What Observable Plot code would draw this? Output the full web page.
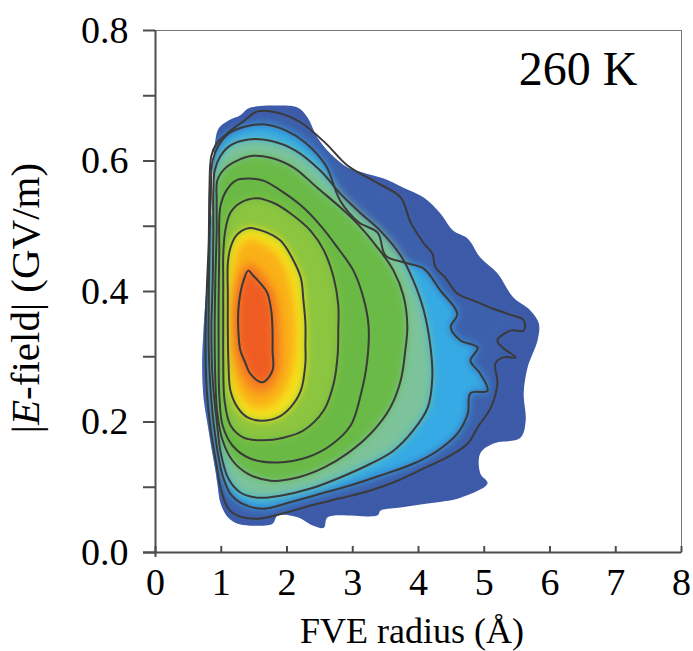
<!DOCTYPE html>
<html><head><meta charset="utf-8">
<script src="https://cdn.jsdelivr.net/npm/d3@7"></script>
<script src="https://cdn.jsdelivr.net/npm/@observablehq/plot@0.6"></script>
<style>
body{margin:0;background:#fff;}
#chart svg{font-family:"Liberation Serif","Times New Roman",serif;}
</style>
</head><body><div id="chart"></div>
<script>
// ---- tick values & labels ----
const xTicks = [0, 1, 2, 3, 4, 5, 6, 7, 8];
const yTicks = [0, 0.2, 0.4, 0.6, 0.8];
const yMinor = [0.1, 0.3, 0.5, 0.7];
const xLabel = "FVE radius (Å)";
const yLabelParts = ["|", "E", "-field| (GV/m)"];
const tempLabel = "260 K";

// ---- density region outline and contour polygons, [FVE radius (Å), |E| (GV/m)] ----
const boundary = [[0.91,0.631],[0.96,0.650],[1.11,0.662],[1.29,0.670],[1.40,0.680],[1.55,0.684],[1.86,0.685],[2.16,0.682],[2.31,0.667],[2.46,0.636],[2.66,0.611],[2.92,0.590],[3.16,0.582],[3.47,0.573],[3.77,0.559],[4.08,0.544],[4.33,0.520],[4.53,0.493],[4.75,0.481],[4.94,0.452],[5.20,0.428],[5.44,0.391],[5.70,0.371],[5.83,0.351],[5.81,0.325],[5.66,0.284],[5.60,0.244],[5.63,0.202],[5.55,0.176],[5.14,0.167],[4.94,0.152],[4.94,0.121],[5.05,0.106],[4.64,0.084],[4.14,0.075],[3.73,0.069],[3.42,0.064],[3.38,0.057],[2.62,0.054],[2.56,0.038],[2.40,0.041],[2.16,0.054],[1.86,0.057],[1.78,0.044],[1.55,0.041],[1.25,0.044],[1.10,0.054],[0.99,0.075],[0.94,0.106],[0.91,0.126],[0.84,0.167],[0.79,0.198],[0.73,0.238],[0.71,0.290],[0.73,0.340],[0.76,0.386],[0.81,0.448],[0.84,0.493],[0.87,0.539],[0.88,0.585]];

const contour8 = [[0.85,0.608],[0.93,0.627],[1.11,0.644],[1.34,0.661],[1.55,0.676],[1.86,0.674],[2.21,0.659],[2.59,0.627],[2.92,0.593],[3.38,0.566],[3.73,0.544],[3.88,0.506],[4.08,0.474],[4.21,0.458],[4.26,0.437],[4.41,0.421],[4.59,0.397],[4.84,0.386],[5.10,0.375],[5.35,0.366],[5.60,0.356],[5.60,0.340],[5.40,0.340],[5.20,0.325],[5.29,0.313],[5.48,0.299],[5.29,0.299],[5.17,0.290],[5.20,0.259],[5.10,0.222],[4.90,0.192],[4.75,0.167],[4.44,0.146],[4.08,0.129],[3.68,0.110],[3.27,0.095],[2.81,0.083],[2.36,0.072],[1.98,0.061],[1.60,0.052],[1.29,0.055],[1.11,0.067],[1.00,0.095],[0.93,0.133],[0.84,0.187],[0.78,0.248],[0.76,0.325],[0.78,0.402],[0.81,0.478],[0.82,0.555]];

const contour7 = [[0.87,0.601],[0.96,0.624],[1.11,0.642],[1.37,0.653],[1.67,0.656],[1.98,0.647],[2.28,0.628],[2.59,0.593],[2.81,0.539],[3.09,0.506],[3.38,0.490],[3.50,0.455],[3.80,0.444],[4.08,0.435],[4.33,0.402],[4.59,0.366],[4.49,0.345],[4.64,0.325],[4.90,0.314],[4.79,0.294],[4.94,0.274],[5.05,0.248],[4.79,0.244],[4.75,0.213],[4.59,0.182],[4.29,0.156],[3.92,0.136],[3.42,0.118],[2.97,0.103],[2.51,0.090],[2.05,0.077],[1.63,0.067],[1.32,0.075],[1.14,0.090],[1.02,0.118],[0.93,0.164],[0.85,0.233],[0.81,0.310],[0.81,0.386],[0.82,0.463],[0.84,0.539]];

const contour6 = [[0.90,0.585],[0.99,0.608],[1.14,0.624],[1.41,0.633],[1.75,0.631],[2.13,0.616],[2.51,0.585],[2.81,0.550],[3.12,0.520],[3.42,0.493],[3.73,0.455],[3.92,0.417],[4.08,0.371],[4.18,0.317],[4.21,0.268],[4.14,0.222],[3.92,0.187],[3.62,0.156],[3.27,0.136],[2.81,0.115],[2.36,0.098],[1.90,0.087],[1.55,0.084],[1.29,0.092],[1.11,0.113],[1.00,0.149],[0.93,0.202],[0.87,0.264],[0.85,0.340],[0.87,0.417],[0.88,0.493],[0.88,0.555]];

const contour5 = [[0.94,0.570],[1.05,0.588],[1.25,0.601],[1.48,0.608],[1.75,0.605],[2.10,0.590],[2.46,0.559],[2.81,0.529],[3.07,0.504],[3.38,0.467],[3.62,0.432],[3.77,0.394],[3.83,0.348],[3.80,0.310],[3.73,0.264],[3.57,0.222],[3.27,0.182],[2.92,0.152],[2.56,0.130],[2.16,0.115],[1.75,0.110],[1.40,0.121],[1.17,0.141],[1.02,0.172],[0.94,0.213],[0.91,0.264],[0.90,0.340],[0.91,0.417],[0.93,0.493],[0.93,0.539]];

const contour4 = [[0.99,0.532],[1.08,0.555],[1.22,0.570],[1.41,0.573],[1.64,0.570],[1.90,0.555],[2.21,0.532],[2.51,0.501],[2.77,0.467],[3.01,0.432],[3.16,0.391],[3.24,0.348],[3.22,0.294],[3.12,0.241],[2.97,0.195],[2.66,0.164],[2.31,0.146],[1.86,0.138],[1.44,0.144],[1.17,0.164],[1.02,0.195],[0.97,0.241],[0.96,0.310],[0.96,0.386],[0.97,0.463],[0.97,0.509]];

const contour3 = [[1.06,0.493],[1.14,0.521],[1.29,0.536],[1.55,0.543],[1.79,0.536],[2.05,0.520],[2.36,0.493],[2.56,0.463],[2.71,0.421],[2.78,0.379],[2.78,0.340],[2.77,0.302],[2.71,0.259],[2.56,0.218],[2.25,0.187],[1.95,0.176],[1.64,0.172],[1.34,0.176],[1.14,0.195],[1.05,0.233],[1.03,0.294],[1.03,0.356],[1.03,0.417],[1.03,0.455]];

const contour2 = [[1.10,0.443],[1.14,0.467],[1.23,0.486],[1.41,0.497],[1.63,0.493],[1.90,0.478],[2.08,0.451],[2.21,0.421],[2.25,0.386],[2.28,0.351],[2.28,0.317],[2.28,0.290],[2.21,0.248],[2.05,0.222],[1.86,0.207],[1.60,0.202],[1.40,0.207],[1.25,0.222],[1.14,0.248],[1.11,0.290],[1.10,0.340],[1.10,0.394]];

const band2b = [[1.20,0.446],[1.27,0.468],[1.43,0.480],[1.63,0.474],[1.85,0.457],[2.01,0.426],[2.10,0.388],[2.14,0.340],[2.11,0.292],[1.98,0.250],[1.76,0.225],[1.52,0.221],[1.32,0.236],[1.20,0.265],[1.16,0.313],[1.16,0.378],[1.17,0.421]];

const band1b = [[1.41,0.444],[1.58,0.435],[1.72,0.417],[1.84,0.392],[1.90,0.356],[1.92,0.317],[1.89,0.276],[1.72,0.248],[1.52,0.245],[1.34,0.264],[1.22,0.294],[1.17,0.333],[1.17,0.379],[1.22,0.409],[1.29,0.429]];

const contour1 = [[1.41,0.432],[1.48,0.425],[1.60,0.412],[1.70,0.398],[1.76,0.371],[1.78,0.340],[1.78,0.310],[1.78,0.279],[1.63,0.261],[1.44,0.274],[1.37,0.290],[1.29,0.310],[1.26,0.340],[1.26,0.371],[1.29,0.397],[1.34,0.417]];

// fill order (outer -> inner) and colours
const fillShapes = [boundary, contour8, contour7, contour6, contour5, contour4, contour3, contour2, band2b, band1b, contour1];
const fillColors = ["#3d5aa8", "#3e60ac", "#36aae4", "#7cc39c", "#6bba46", "#6ab945", "#8cc541", "#f5e21c", "#fab019", "#f58420", "#ef5c22"];
const lineShapes = [contour8, contour7, contour6, contour5, contour4, contour3, contour2, contour1];

const fillMarks = fillShapes.map((pts, i) =>
  Plot.line(pts, {x: d => d[0], y: d => d[1], fill: fillColors[i], stroke: "none", curve: "catmull-rom-closed"}));
const lineMarks = lineShapes.map(pts =>
  Plot.line(pts, {x: d => d[0], y: d => d[1], stroke: "#3a3a3a", strokeWidth: 2, curve: "catmull-rom-closed"}));

const axisGray = "#4d4d4d";
const chart = Plot.plot({
  width: 693, height: 651,
  marginLeft: 155, marginRight: 12, marginTop: 30, marginBottom: 99,
  x: {domain: [0, 8]},
  y: {domain: [0, 0.8]},
  style: {fontFamily: "'Liberation Serif', 'Times New Roman', serif", background: "white", color: "black"},
  marks: [
    ...fillMarks,
    ...lineMarks,
    Plot.frame({stroke: "#777", strokeWidth: 1}),
    Plot.ruleX([0], {stroke: axisGray, strokeWidth: 2, insetBottom: -5}),
    Plot.ruleY([0], {stroke: axisGray, strokeWidth: 2, insetLeft: -12}),
    Plot.axisY(yMinor, {tickSize: 12, tickFormat: () => "", stroke: axisGray, strokeWidth: 2, label: null}),
    Plot.axisY(yTicks, {tickSize: 12, tickPadding: 15, tickFormat: d3.format(".1f"), fontSize: 38, stroke: axisGray, strokeWidth: 2, fill: "black", label: null}),
    Plot.axisX(xTicks, {tickSize: -6, tickPadding: 22, tickFormat: d3.format("d"), fontSize: 38, stroke: axisGray, strokeWidth: 2, fill: "black", label: null}),
    Plot.text([tempLabel], {text: d => d, frameAnchor: "top-right", textAnchor: "end", lineAnchor: "top", dx: -44, dy: 20, fontSize: 48, fill: "black"})
  ]
});
document.getElementById("chart").appendChild(chart);

// ---- soften colour bands (gradient look) clipped to the outline ----
const svg = d3.select(chart);
const lineGroups = svg.selectAll('g[aria-label="line"]').nodes();
const outlineD = d3.select(lineGroups[0]).select("path").attr("d");
const defs = svg.insert("defs", ":first-child");
defs.append("filter").attr("id", "soft")
  .attr("x", "-20%").attr("y", "-20%").attr("width", "140%").attr("height", "140%")
  .append("feGaussianBlur").attr("stdDeviation", 4);
defs.append("clipPath").attr("id", "blobclip").append("path").attr("d", outlineD);
for (let i = 1; i < fillShapes.length; i++) {
  d3.select(lineGroups[i]).attr("filter", "url(#soft)").attr("clip-path", "url(#blobclip)");
}

// ---- axis titles ----
svg.append("text").attr("x", 412).attr("y", 643).attr("text-anchor", "middle")
  .attr("font-size", 36).attr("fill", "black").text(xLabel);
const yl = svg.append("text").attr("transform", "translate(39,298) rotate(-90)")
  .attr("text-anchor", "middle").attr("font-size", 41).attr("fill", "black");
yl.append("tspan").text(yLabelParts[0]);
yl.append("tspan").attr("font-style", "italic").text(yLabelParts[1]);
yl.append("tspan").text(yLabelParts[2]);
</script>
</body></html>
